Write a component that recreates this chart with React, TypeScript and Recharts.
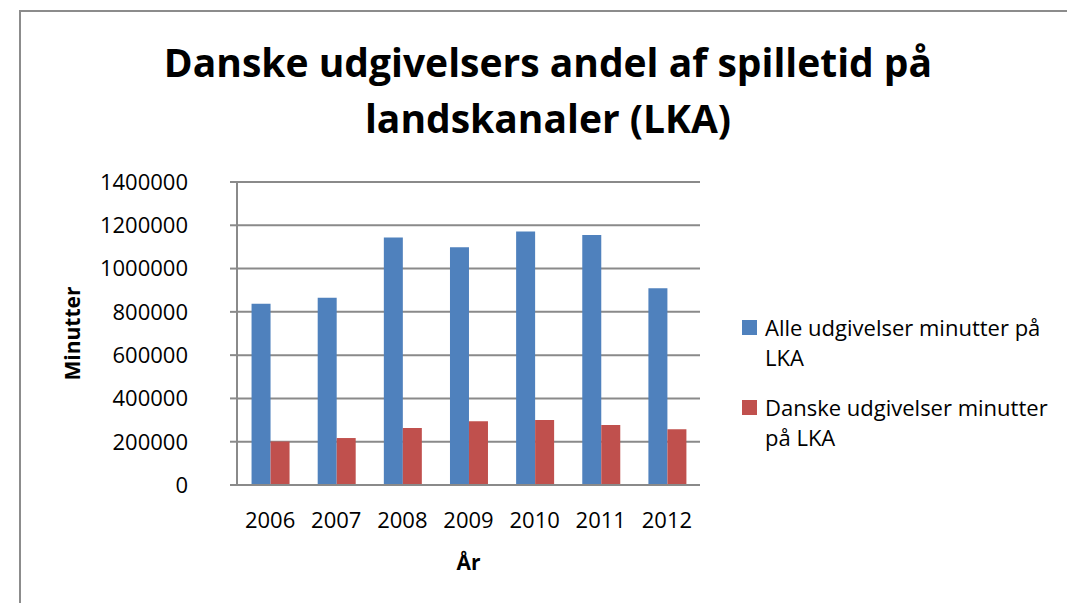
import React from "react";
import { BarChart, Bar, XAxis, YAxis, CartesianGrid, Legend } from "recharts";

const years = ["2006", "2007", "2008", "2009", "2010", "2011", "2012"];
const alleMinutter = [838000, 865000, 1143000, 1098000, 1171000, 1155000, 909000];
const danskeMinutter = [201000, 217000, 263000, 294000, 300000, 277000, 258000];
const yTicks = [0, 200000, 400000, 600000, 800000, 1000000, 1200000, 1400000];
const titleLines = ["Danske udgivelsers andel af spilletid på", "landskanaler (LKA)"];
const seriesNames = ["Alle udgivelser minutter på LKA", "Danske udgivelser minutter på LKA"];

const FONT = "'Open Sans', sans-serif";
const GRID = "#8a8a8a";

const data = years.map((year, i) => ({
  year,
  alle: alleMinutter[i],
  danske: danskeMinutter[i],
}));

function LegendBox({ payload }: any) {
  return (
    <div style={{ fontFamily: FONT, fontSize: 22, lineHeight: "30px", color: "#000" }}>
      {(payload || []).map((entry: any) => (
        <div key={entry.value} style={{ display: "flex", alignItems: "flex-start", marginBottom: 20 }}>
          <span
            style={{
              display: "inline-block",
              width: 15,
              height: 15,
              background: entry.color,
              marginTop: 8,
              marginRight: 8,
              flexShrink: 0,
            }}
          />
          <span style={{ width: 300 }}>{entry.value}</span>
        </div>
      ))}
    </div>
  );
}

export default function App() {
  return (
    <div
      style={{
        position: "absolute",
        left: 0,
        top: 0,
        width: 1067,
        height: 603,
        overflow: "hidden",
        background: "#fff",
        fontFamily: FONT,
      }}
    >
      {/* chart frame, runs off the right and bottom edge */}
      <div
        style={{
          position: "absolute",
          left: 19,
          top: 10,
          width: 1100,
          height: 700,
          border: "2px solid #8c8c8c",
        }}
      />
      <div
        style={{
          position: "absolute",
          left: 0,
          top: 34,
          width: 1096,
          textAlign: "center",
          fontWeight: 700,
          fontSize: 39,
          lineHeight: "56px",
          color: "#000",
        }}
      >
        {titleLines.map((line) => (
          <div key={line}>{line}</div>
        ))}
      </div>
      <div style={{ position: "absolute", left: 0, top: 0 }}>
        <BarChart
          width={1067}
          height={603}
          data={data}
          margin={{ top: 182, right: 367, bottom: 0, left: 0 }}
          barCategoryGap="22%"
          barGap={0}
        >
          <CartesianGrid vertical={false} stroke={GRID} strokeWidth={2} />
          <XAxis
            dataKey="year"
            height={118}
            tickLine={false}
            tickSize={0}
            tickMargin={27}
            axisLine={{ stroke: GRID, strokeWidth: 2 }}
            tick={{ fill: "#000", fontSize: 22, fontFamily: FONT }}
            label={{
              content: ({ viewBox }: any) => (
                <text
                  x={viewBox.x + viewBox.width / 2}
                  y={viewBox.y + 77}
                  textAnchor="middle"
                  dominantBaseline="central"
                  fontFamily={FONT}
                  fontWeight={700}
                  fontSize={21}
                  fill="#000"
                >
                  År
                </text>
              ),
            }}
          />
          <YAxis
            width={237}
            domain={[0, 1400000]}
            ticks={yTicks}
            interval={0}
            tickSize={7}
            tickMargin={42}
            tickLine={{ stroke: GRID, strokeWidth: 2 }}
            axisLine={{ stroke: GRID, strokeWidth: 2 }}
            tick={{ fill: "#000", fontSize: 22, fontFamily: FONT }}
            label={{
              content: ({ viewBox }: any) => {
                const cx = viewBox.x + 72;
                const cy = viewBox.y + viewBox.height / 2;
                return (
                  <text
                    x={cx}
                    y={cy}
                    transform={`rotate(-90 ${cx} ${cy})`}
                    textAnchor="middle"
                    dominantBaseline="central"
                    fontFamily={FONT}
                    fontWeight={700}
                    fontSize={21}
                    fill="#000"
                  >
                    Minutter
                  </text>
                );
              },
            }}
          />
          <Legend
            layout="vertical"
            align="center"
            verticalAlign="middle"
            content={LegendBox}
            wrapperStyle={{ left: 742, top: 312, width: 325 }}
          />
          <Bar dataKey="alle" name={seriesNames[0]} fill="#4F81BD" isAnimationActive={false} />
          <Bar dataKey="danske" name={seriesNames[1]} fill="#C0504D" isAnimationActive={false} />
        </BarChart>
      </div>
    </div>
  );
}
